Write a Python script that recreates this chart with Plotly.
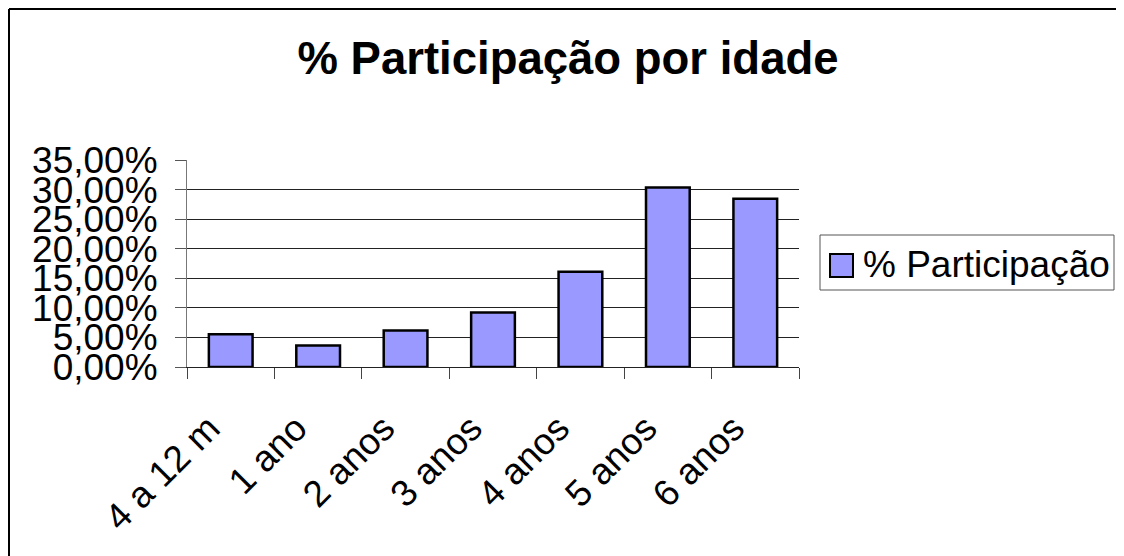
import plotly.graph_objects as go

categories = ["4 a 12 m", "1 ano", "2 anos", "3 anos", "4 anos", "5 anos", "6 anos"]
participacao = [0.0555, 0.0365, 0.0617, 0.0922, 0.1612, 0.3036, 0.2845]
series_name = "% Participação"
title_text = "% Participação por idade"
y_ticks = [0, 0.05, 0.10, 0.15, 0.20, 0.25, 0.30, 0.35]

OFF = 8  # page body margin
W, H = 1124, 556
L, R, T, B = 187 - OFF, 799 - OFF, 160 - OFF, 367 - OFF
PW, PH = R - L, B - T

def px(x):
    return (x - OFF - L) / PW

def py(y):
    return (B - (y - OFF)) / PH

FONT = "Liberation Sans, Arial, sans-serif"
BAR_COLOR = "#9999FF"
pad_label = "\u00a0" * 3

fig = go.Figure()
fig.add_trace(go.Bar(
    x=categories, y=participacao, name=series_name,
    marker=dict(color=BAR_COLOR, line=dict(color="black", width=2.5)),
    showlegend=False,
))

fig.update_layout(
    width=W, height=H,
    margin=dict(l=L, r=W - R, t=T, b=H - B, pad=0),
    paper_bgcolor="white", plot_bgcolor="white",
    separators=",.",
    bargap=0.5,
    font=dict(family=FONT, size=37, color="black"),
    title=dict(text="<b>" + title_text + "</b>", x=(568 - OFF) / W, xanchor="center",
               y=1 - (58 - OFF) / H, yanchor="middle", yref="container",
               font=dict(family=FONT, size=45.5, color="black")),
    xaxis=dict(type="category", tickson="boundaries", ticks="outside", ticklen=11,
               tickcolor="#444", tickwidth=1, showline=True, linecolor="#222", linewidth=1,
               showgrid=False, tickangle=-45, tickfont=dict(size=37),
               tickmode="array", tickvals=categories,
               ticktext=[c + pad_label for c in categories],
               ticklabelstandoff=2),
    yaxis=dict(range=[0, 0.35], tickvals=y_ticks, tickformat=".2%", ticks="outside",
               ticklen=11, tickcolor="#555", tickwidth=1, showline=True, linecolor="#777",
               linewidth=1, showgrid=True, gridcolor="#222", gridwidth=1,
               zeroline=False, tickfont=dict(size=37), ticklabelstandoff=10),
)

shapes = []
# chart area border (top and left)
shapes.append(dict(type="line", xref="paper", yref="paper",
                   x0=px(9), y0=py(580), x1=px(9), y1=py(9),
                   line=dict(color="black", width=2)))
shapes.append(dict(type="line", xref="paper", yref="paper",
                   x0=px(9), y0=py(9), x1=px(1140), y1=py(9),
                   line=dict(color="black", width=2)))
# legend box
shapes.append(dict(type="rect", xref="paper", yref="paper",
                   x0=px(820), y0=py(290), x1=px(1114), y1=py(235),
                   line=dict(color="#555", width=1), fillcolor="white"))
shapes.append(dict(type="rect", xref="paper", yref="paper",
                   x0=px(830), y0=py(277), x1=px(853), y1=py(254),
                   line=dict(color="black", width=2), fillcolor=BAR_COLOR))
fig.update_layout(shapes=shapes)
fig.add_annotation(text=series_name, xref="paper", yref="paper",
                   x=px(861), y=py(264), xanchor="left", yanchor="middle",
                   showarrow=False, font=dict(family=FONT, size=37, color="black"))

fig.write_html("out.html")
